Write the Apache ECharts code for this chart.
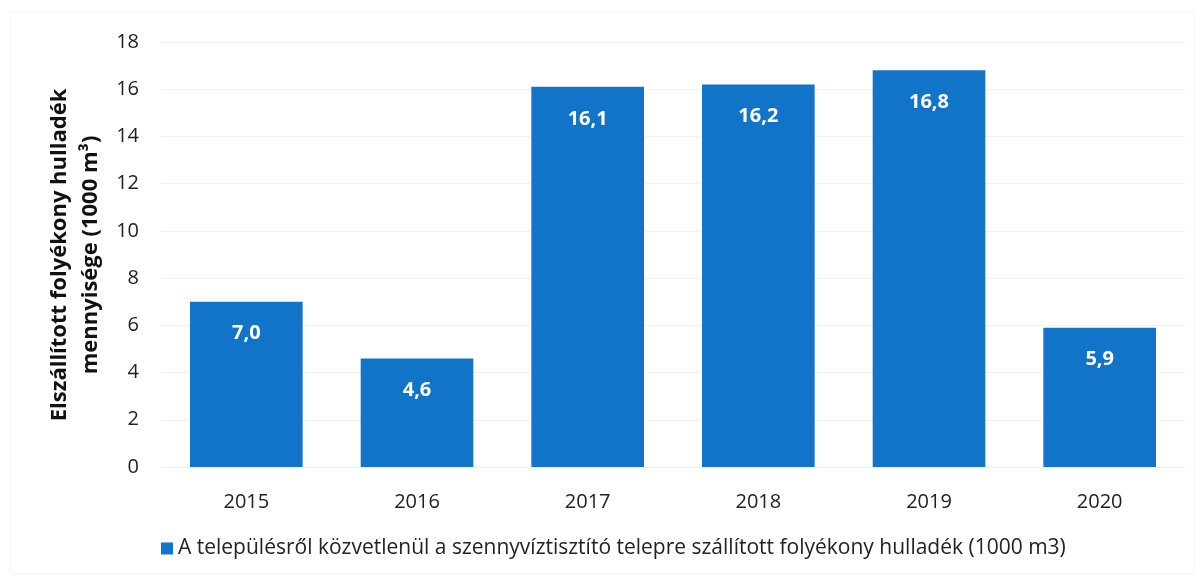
<!DOCTYPE html>
<html>
<head>
<meta charset="utf-8">
<script src="https://cdn.jsdelivr.net/npm/echarts@6/dist/echarts.min.js"></script>
<style>
    html, body { margin: 0; padding: 0; background: #fff; }
    #chart { width: 1203px; height: 584px; }
</style>
</head>
<body>
<div id="chart"></div>
<script>
// adatok
const years = ["2015", "2016", "2017", "2018", "2019", "2020"]
const amounts = [7.0, 4.6, 16.1, 16.2, 16.8, 5.9]
const seriesName = "A településről közvetlenül a szennyvíztisztító telepre szállított folyékony hulladék (1000 m3)"
const yTitle = "Elszállított folyékony hulladék\nmennyisége (1000 m³)"

const font = "'Open Sans', sans-serif"
const barColor = "#1174c8"

const chart = echarts.init(document.getElementById("chart"))
const option = {
    animation: false,
    textStyle: { fontFamily: font },
    grid: {
        left: 161,
        right: 18,
        top: 42,
        bottom: 117
    },
    //y tengely címe, kézzel elhelyezve
    graphic: [{
        type: "rect",
        shape: { x: 10, y: 12, width: 1184, height: 562 },
        style: { fill: "none", stroke: "#f4f4f4", lineWidth: 1 },
        silent: true
    }, {
        type: "text",
        x: 75,
        y: 255,
        rotation: Math.PI / 2,
        style: {
            text: yTitle,
            fontFamily: font,
            fontSize: 22,
            fontWeight: "bold",
            lineHeight: 31,
            fill: "#111",
            align: "center",
            verticalAlign: "middle"
        }
    }],
    legend: {
        bottom: 20,
        left: 156,
        itemWidth: 12,
        itemHeight: 12,
        itemGap: 7,
        icon: "rect",
        textStyle: { fontSize: 21, color: "#222", fontFamily: font }
    },
    xAxis: {
        type: "category",
        data: years,
        axisLine: { show: false },
        axisTick: { show: false },
        axisLabel: { fontSize: 20, color: "#222", margin: 25 }
    },
    yAxis: {
        type: "value",
        min: 0,
        max: 18,
        interval: 2,
        axisLabel: { fontSize: 20, color: "#222", margin: 22 },
        splitLine: { lineStyle: { color: "#f0f0f0" } }
    },
    series: [{
        name: seriesName,
        type: "bar",
        data: amounts,
        barWidth: "66%",
        itemStyle: { color: barColor },
        label: {
            show: true,
            position: "insideTop",
            distance: 22,
            color: "#fff",
            fontSize: 20,
            fontWeight: "bold",
            formatter: (p) => p.value.toFixed(1).replace(".", ",")
        }
    }]
}
chart.setOption(option)
</script>
</body>
</html>
